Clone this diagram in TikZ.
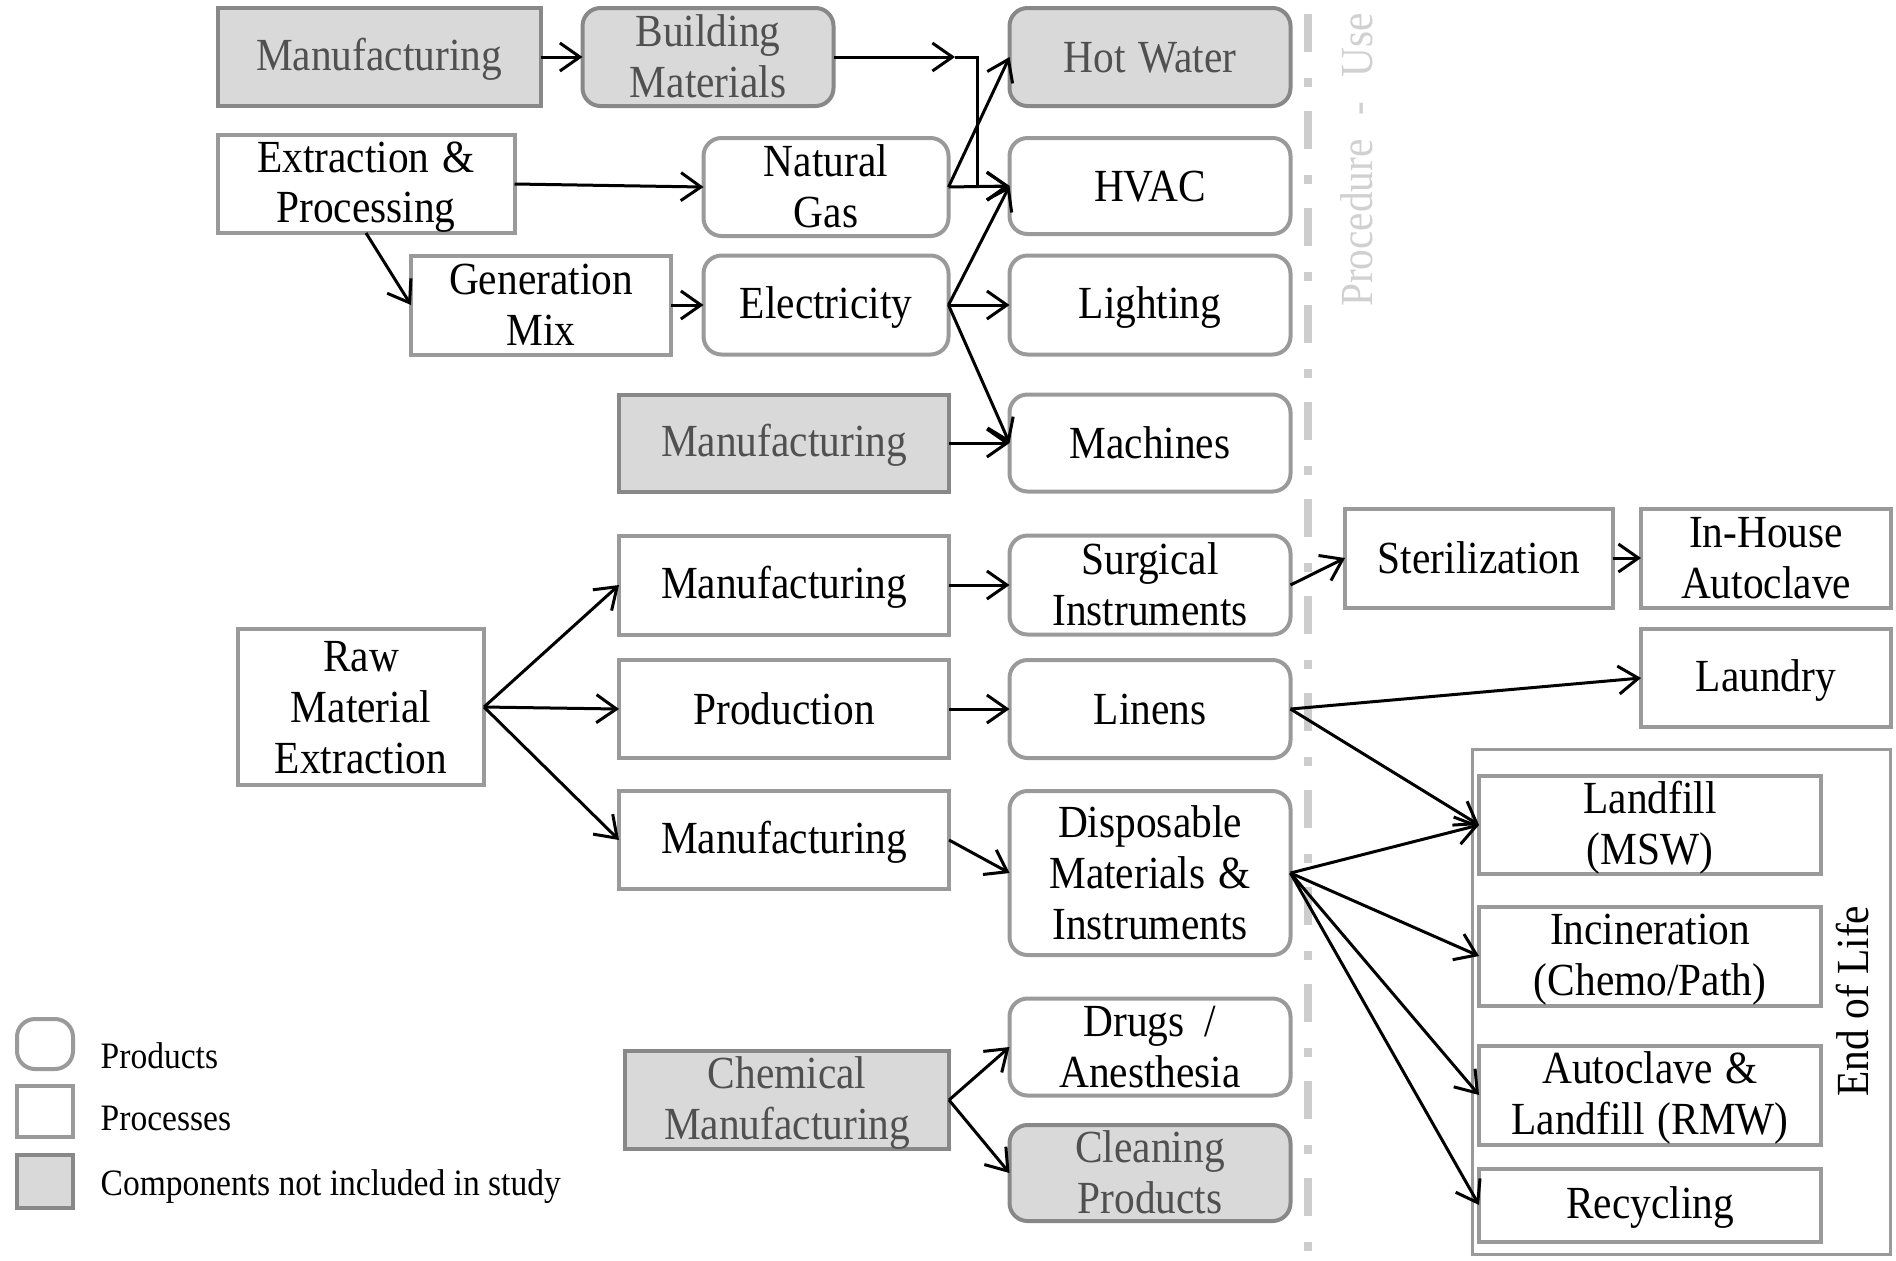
\documentclass[tikz,border=0pt]{standalone}
\usepackage{fontspec}
\setmainfont{Liberation Serif}[FakeStretch=0.9]
\usetikzlibrary{arrows.meta}
\definecolor{bordergray}{HTML}{9A9A9A}
\definecolor{darkborder}{HTML}{888888}
\definecolor{fillgray}{HTML}{D9D9D9}
\definecolor{greytext}{HTML}{505050}
\definecolor{seplinecol}{HTML}{CDCDCD}
\definecolor{proctext}{HTML}{D0D0D0}
\newcommand\bxfnt{\fontsize{13.08pt}{14.5pt}\selectfont}
\newcommand\lgfnt{\fontsize{10.6pt}{13pt}\selectfont}
\newcommand\wsp{\hspace{1.3mm}}
\newcommand\tr{\rule{0pt}{10.5pt}}
\begin{document}
\begin{tikzpicture}[x=0.1mm, y=-0.1mm,
  box/.style={draw=bordergray, line width=0.4mm, align=center, inner sep=0pt, outer sep=0pt, font=\bxfnt, text=black,
    execute at begin node={\tr}, execute at end node={\rule[-1.84pt]{0pt}{0pt}}},
  rbox/.style={box, rounded corners=1.8mm},
  pbox/.style={box},
  excl/.style={fill=fillgray, draw=darkborder, text=greytext},
  sz/.style 2 args={minimum width=#1*0.1mm, minimum height=#2*0.1mm},
  arr/.style={-{Straight Barb[length=2mm,width=2.8mm]}, line width=0.3mm, black},
  lgtext/.style={anchor=west, font=\lgfnt, inner sep=0pt, text=black},
  sepline/.style={draw=seplinecol, line width=0.8mm, dash pattern=on 3.8mm off 2.6mm on 0.9mm off 2.4mm},
]
\useasboundingbox (0,0) rectangle (1896,1260);

% separator and its label
\draw[sepline] (1308,14) -- (1308,1260);
\node[rotate=90, font=\bxfnt, text=proctext, inner sep=0pt] (proc) at (1357,160) {Procedure\hspace{2.4mm}-\hspace{2.4mm}Use};

% top section
\node[pbox,excl,sz={323}{98}] (m1) at (379,57) {Manufacturing};
\node[rbox,excl,sz={251}{98}] (bm) at (708,57) {\tr Building\\Materials};
\node[rbox,excl,sz={281}{98}] (hw) at (1150,57) {Hot\wsp Water};
\node[pbox,sz={297}{98}] (ep) at (366,184) {\tr Extraction\wsp\&\\Processing};
\node[rbox,sz={245}{98}] (ng) at (826,187) {\tr Natural\\Gas};
\node[rbox,sz={281}{96}] (hvac) at (1150,186) {HVAC};
\node[pbox,sz={260}{99}] (gm) at (541,305) {\tr Generation\\Mix};
\node[rbox,sz={245}{99}] (el) at (826,305) {Electricity};
\node[rbox,sz={281}{99}] (li) at (1150,305) {Lighting};
\node[pbox,excl,sz={330}{97}] (m2) at (784,443) {Manufacturing};
\node[rbox,sz={281}{97}] (ma) at (1150,443) {Machines};

% middle section
\node[pbox,sz={330}{99}] (m3) at (784,585) {Manufacturing};
\node[rbox,sz={281}{99}] (si) at (1150,585) {\tr Surgical\\Instruments};
\node[pbox,sz={268}{99}] (st) at (1479,558) {Sterilization};
\node[pbox,sz={250}{99}] (ih) at (1766,558) {\tr In-House\\Autoclave};
\node[pbox,sz={246}{156}] (rm) at (361,707) {\tr Raw\\Material\\Extraction};
\node[pbox,sz={330}{98}] (pr) at (784,709) {Production};
\node[rbox,sz={281}{98}] (ln) at (1150,709) {Linens};
\node[pbox,sz={250}{98}] (la) at (1766,678) {Laundry};
\node[pbox,sz={330}{98}] (m4) at (784,840) {Manufacturing};
\node[rbox,sz={281}{164}] (dm) at (1150,873) {\tr Disposable\\Materials\wsp\&\\Instruments};

% end of life group
\node[draw=bordergray, line width=0.3mm, inner sep=0pt, outer sep=0pt, sz={418}{505}] (eol) at (1681,1002) {};
\node[pbox,sz={342}{98}] (lf) at (1650,825) {\tr Landfill\\(MSW)};
\node[pbox,sz={342}{99}] (inc) at (1650,956) {\tr Incineration\\(Chemo/Path)};
\node[pbox,sz={342}{99}] (al) at (1650,1095) {\tr Autoclave\wsp\&\\Landfill\wsp(RMW)};
\node[pbox,sz={342}{73}] (rc) at (1650,1205) {Recycling};
\node[rotate=90, font=\bxfnt, inner sep=0pt] (eoltext) at (1852,1001) {End of Life};

% bottom section
\node[pbox,excl,sz={324}{97}] (cm) at (787,1100) {\tr Chemical\\Manufacturing};
\node[rbox,sz={281}{97}] (dr) at (1150,1047) {\tr Drugs\hspace{1mm} /\\Anesthesia};
\node[rbox,excl,sz={281}{96}] (cp) at (1150,1173) {\tr Cleaning\\Products};

% legend
\node[rbox,sz={56}{50}] (lp) at (45,1044) {};
\node[pbox,sz={56}{51}] (lq) at (45,1111) {};
\node[pbox,excl,sz={56}{53}] (lg) at (45,1181) {};
\node[lgtext] (lpt) at (100,1056) {Products};
\node[lgtext] (lqt) at (100,1118) {Processes};
\node[lgtext] (lgt) at (100,1187) {Components not included in study};

% connectors
\coordinate (c1) at (955,57);
\coordinate (c2) at (977,57);
\draw[arr] (m1) -- (bm);
\draw[arr] (bm.east) -- (c1);
\draw[arr] (c1) -- (c2) |- (hvac.west);
\draw[arr] (ep.east) -- (ng.west);
\draw[arr] (ep.south) -- (gm.west);
\draw[arr] (gm) -- (el);
\draw[arr] (ng.east) -- (hw.west);
\draw[arr] (ng.east) -- (hvac.west);
\draw[arr] (el.east) -- (hvac.west);
\draw[arr] (el.east) -- (li.west);
\draw[arr] (el.east) -- (ma.west);
\draw[arr] (m2) -- (ma);

\draw[arr] (rm.east) -- (m3.west);
\draw[arr] (rm.east) -- (pr.west);
\draw[arr] (rm.east) -- (m4.west);
\draw[arr] (m3) -- (si);
\draw[arr] (pr) -- (ln);
\draw[arr] (m4.east) -- (dm.west);
\draw[arr] (si.east) -- (st.west);
\draw[arr] (st) -- (ih);
\draw[arr] (ln.east) -- (la.west);
\draw[arr] (ln.east) -- (lf.west);
\draw[arr] (dm.east) -- (lf.west);
\draw[arr] (dm.east) -- (inc.west);
\draw[arr] (dm.east) -- (al.west);
\draw[arr] (dm.east) -- (rc.west);
\draw[arr] (cm.east) -- (dr.west);
\draw[arr] (cm.east) -- (cp.west);
\end{tikzpicture}
\end{document}
